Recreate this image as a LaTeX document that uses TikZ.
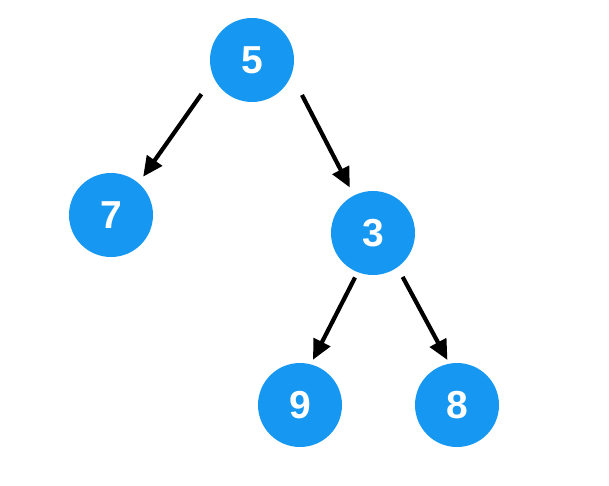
\documentclass[tikz,border=0pt]{standalone}
\usepackage{fontspec}
\setmainfont{Liberation Sans}
\usepackage{tikz}
\usetikzlibrary{arrows.meta,calc}
\definecolor{nodeblue}{RGB}{22,152,242}

\begin{document}
\begin{tikzpicture}[x=1pt,y=-1pt,every node/.style={font=\fontsize{39}{44}\selectfont\bfseries}]
\tikzstyle{v}=[circle,fill=nodeblue,text=white,minimum size=84pt,inner sep=0pt]
\tikzstyle{e}=[-{Triangle[length=20pt,width=18pt]},line width=4.2pt,black]
\useasboundingbox (0,0) rectangle (609,486);
\node[v](n5) at (252,60){5};
\node[v](n7) at (111,215){7};
\node[v](n3) at (373,233){3};
\node[v](n9) at (300,405){9};
\node[v](n8) at (457,405){8};
\draw[e]($(n5)+(214:61pt)$)--($(n7)+(50:50pt)$);
\draw[e]($(n5)+(325:61pt)$)--($(n3)+(117:51pt)$);
\draw[e]($(n3)+(248:48pt)$)--($(n9)+(74:47pt)$);
\draw[e]($(n3)+(304:53pt)$)--($(n8)+(102:46pt)$);
\end{tikzpicture}
\end{document}
